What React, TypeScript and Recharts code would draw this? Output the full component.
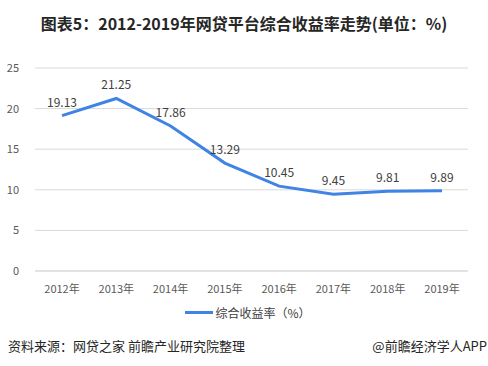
import React from "react";
import { LineChart, Line, XAxis, YAxis, CartesianGrid, LabelList } from "recharts";

const years = ["2012年", "2013年", "2014年", "2015年", "2016年", "2017年", "2018年", "2019年"];
const yieldRate = [19.13, 21.25, 17.86, 13.29, 10.45, 9.45, 9.81, 9.89];
const yTicks = [0, 5, 10, 15, 20, 25];

const title = "图表5：2012-2019年网贷平台综合收益率走势(单位：%)";
const seriesName = "综合收益率（%）";
const source = "资料来源：网贷之家 前瞻产业研究院整理";
const brand = "@前瞻经济学人APP";

const FONT = '"Noto Sans CJK SC", "Microsoft YaHei", sans-serif';
const LINE_COLOR = "#3f84e5";

const App: React.FC = () => {
  const data = years.map((year, i) => ({ year, value: yieldRate[i] }));

  return (
    <div
      style={{
        position: "absolute",
        left: 0,
        top: 0,
        width: 488,
        height: 366,
        background: "#fff",
        fontFamily: FONT,
      }}
    >
      <div
        style={{
          position: "absolute",
          top: 11,
          left: 0,
          width: 488,
          textAlign: "center",
          fontSize: 16,
          fontWeight: "bold",
          color: "#262626",
        }}
      >
        {title}
      </div>

      <LineChart
        width={488}
        height={300}
        data={data}
        margin={{ top: 68, right: 20, bottom: 0, left: 0 }}
        style={{ position: "absolute", left: 0, top: 0 }}
      >
        <CartesianGrid vertical={false} stroke="#d9d9d9" />
        <XAxis
          dataKey="year"
          axisLine={{ stroke: "#d9d9d9" }}
          tickLine={false}
          height={29}
          tickMargin={8}
          padding={{ left: 27, right: 26 }}
          tick={{ fontSize: 11, fill: "#595959", fontFamily: FONT }}
          interval={0}
        />
        <YAxis
          domain={[0, 25]}
          ticks={yTicks}
          width={35}
          axisLine={false}
          tickLine={false}
          tickMargin={10}
          tick={{ fontSize: 11, fill: "#595959", fontFamily: FONT }}
        />
        <Line
          type="linear"
          dataKey="value"
          stroke={LINE_COLOR}
          strokeWidth={3}
          dot={false}
          isAnimationActive={false}
        >
          <LabelList
            dataKey="value"
            position="top"
            offset={9}
            style={{ fontSize: 12, fill: "#404040", fontFamily: FONT }}
          />
        </Line>
      </LineChart>

      <div
        style={{
          position: "absolute",
          top: 304,
          left: 0,
          width: 488,
          display: "flex",
          justifyContent: "center",
          alignItems: "center",
          fontSize: 12,
          color: "#404040",
        }}
      >
        <span
          style={{
            display: "inline-block",
            width: 28,
            height: 3,
            background: LINE_COLOR,
            marginRight: 2,
            marginLeft: 8,
          }}
        />
        <span>{seriesName}</span>
      </div>

      <div
        style={{
          position: "absolute",
          top: 336,
          left: 8,
          fontSize: 13,
          color: "#262626",
        }}
      >
        {source}
      </div>
      <div
        style={{
          position: "absolute",
          top: 336,
          right: 1,
          fontSize: 13,
          color: "#262626",
        }}
      >
        {brand}
      </div>
    </div>
  );
};

export default App;
